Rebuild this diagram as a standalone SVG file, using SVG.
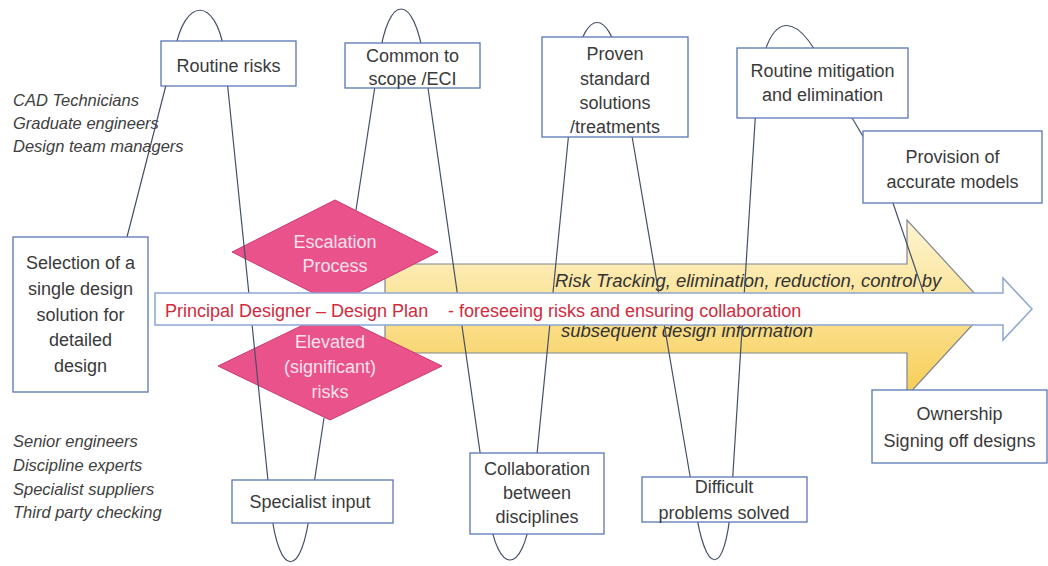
<svg xmlns="http://www.w3.org/2000/svg" width="1048" height="566" viewBox="0 0 1048 566">
  <defs>
    <linearGradient id="gold" x1="0" y1="220" x2="0" y2="396" gradientUnits="userSpaceOnUse">
      <stop offset="0" stop-color="#fdf4d2"/>
      <stop offset="0.45" stop-color="#fbe49a"/>
      <stop offset="1" stop-color="#f7cd55"/>
    </linearGradient>
    <style>
      .box { fill: #ffffff; stroke: #5877b5; stroke-width: 1.3; }
      .lbl { font-family: "Liberation Sans", Arial, sans-serif; font-size: 18px; fill: #3a3a3a; text-anchor: middle; }
      .role { font-family: "Liberation Sans", Arial, sans-serif; font-size: 16.5px; font-style: italic; fill: #404040; }
      .gem { fill: #e9528b; stroke: #c83c72; stroke-width: 1; }
      .gemtxt { font-family: "Liberation Sans", Arial, sans-serif; font-size: 18px; fill: #fbe1ec; text-anchor: middle; }
      .band { font-family: "Liberation Sans", Arial, sans-serif; font-size: 18.5px; font-style: italic; fill: #333333; }
      .plan { font-family: "Liberation Sans", Arial, sans-serif; font-size: 18px; fill: #d12b3d; }
      .wave { fill: none; stroke: #44506a; stroke-width: 1.2; stroke-linejoin: round; }
    </style>
  </defs>

  <rect width="1048" height="566" fill="#ffffff"/>

  <!-- staff groups -->
  <g id="roles-routine">
    <text class="role" x="13" y="106">CAD Technicians</text>
    <text class="role" x="13" y="129">Graduate engineers</text>
    <text class="role" x="13" y="152">Design team managers</text>
  </g>
  <g id="roles-specialist">
    <text class="role" x="13" y="447">Senior engineers</text>
    <text class="role" x="13" y="471">Discipline experts</text>
    <text class="role" x="13" y="495">Specialist suppliers</text>
    <text class="role" x="13" y="518">Third party checking</text>
  </g>

  <!-- risk tracking band -->
  <g id="risk-tracking">
    <polygon points="385,264 907,264 907,220 988,308 907,396 907,353 385,353" fill="url(#gold)" stroke="#7f8590" stroke-width="1.2"/>
    <text class="band" x="555" y="287">Risk Tracking, elimination, reduction, control by</text>
    <text class="band" x="561" y="337">subsequent design information</text>
  </g>

  <!-- escalation diamonds -->
  <g id="escalation">
    <polygon class="gem" points="335,200 438,252 335,304 232,252"/>
    <text class="gemtxt" x="335" y="248">Escalation</text>
    <text class="gemtxt" x="335" y="272">Process</text>
  </g>
  <g id="elevated">
    <polygon class="gem" points="330,312 442,366 330,420 218,366"/>
    <text class="gemtxt" x="330" y="348">Elevated</text>
    <text class="gemtxt" x="330" y="373">(significant)</text>
    <text class="gemtxt" x="330" y="398">risks</text>
  </g>

  <!-- wave connector linking the stages -->
  <g id="connectors">
    <path class="wave" d="M127,237 L175,50 C185,-3 215,-3 224,50 L271,510 C279,579 302,579 310,510 L324,418"/>
    <path class="wave" d="M356,210 L379,60 C388,-8 414,-8 424,60 L489,515 C498,575 522,575 531,515 L576,60 C586,10 608,10 619,60 L695,505 C705,578 725,578 731,505 L757,90 C768,5 798,5 832,84 L880,165 L924,294"/>
  </g>

  <!-- design plan arrow -->
  <g id="design-plan">
    <polygon points="155,293 1003,293 1003,278 1032,309 1003,340 1003,325 155,325" fill="#ffffff" stroke="#8ea6cf" stroke-width="1.5"/>
    <text class="plan" x="165" y="317">Principal Designer – Design Plan</text>
    <text class="plan" x="448" y="317">- foreseeing risks and ensuring collaboration</text>
  </g>

  <!-- stage boxes -->
  <g id="selection">
    <rect class="box" x="13" y="237" width="135" height="155"/>
    <text class="lbl" x="80.5" y="269">Selection of a</text>
    <text class="lbl" x="80.5" y="295">single design</text>
    <text class="lbl" x="80.5" y="321">solution for</text>
    <text class="lbl" x="80.5" y="346">detailed</text>
    <text class="lbl" x="80.5" y="372">design</text>
  </g>
  <g id="routine-risks">
    <rect class="box" x="161" y="41" width="135" height="45"/>
    <text class="lbl" x="228.5" y="72">Routine risks</text>
  </g>
  <g id="common-scope">
    <rect class="box" x="345" y="43" width="135" height="45"/>
    <text class="lbl" x="412.5" y="62">Common to</text>
    <text class="lbl" x="412.5" y="85">scope /ECI</text>
  </g>
  <g id="proven-solutions">
    <rect class="box" x="542" y="37" width="146" height="100"/>
    <text class="lbl" x="615" y="60">Proven</text>
    <text class="lbl" x="615" y="84.5">standard</text>
    <text class="lbl" x="615" y="109">solutions</text>
    <text class="lbl" x="615" y="133">/treatments</text>
  </g>
  <g id="routine-mitigation">
    <rect class="box" x="737" y="48" width="171" height="70"/>
    <text class="lbl" x="822.5" y="77">Routine mitigation</text>
    <text class="lbl" x="822.5" y="101">and elimination</text>
  </g>
  <g id="accurate-models">
    <rect class="box" x="863" y="131" width="179" height="72"/>
    <text class="lbl" x="952.5" y="163">Provision of</text>
    <text class="lbl" x="952.5" y="188">accurate models</text>
  </g>
  <g id="specialist-input">
    <rect class="box" x="232" y="480" width="161" height="43"/>
    <text class="lbl" x="310" y="508">Specialist input</text>
  </g>
  <g id="collaboration">
    <rect class="box" x="470" y="453" width="134" height="81"/>
    <text class="lbl" x="537" y="475">Collaboration</text>
    <text class="lbl" x="537" y="499">between</text>
    <text class="lbl" x="537" y="523">disciplines</text>
  </g>
  <g id="difficult-problems">
    <rect class="box" x="642" y="477" width="165" height="45"/>
    <text class="lbl" x="724" y="493">Difficult</text>
    <text class="lbl" x="724" y="519">problems solved</text>
  </g>
  <g id="ownership">
    <rect class="box" x="872" y="390" width="175" height="73"/>
    <text class="lbl" x="959.5" y="420">Ownership</text>
    <text class="lbl" x="959.5" y="447">Signing off designs</text>
  </g>
</svg>
